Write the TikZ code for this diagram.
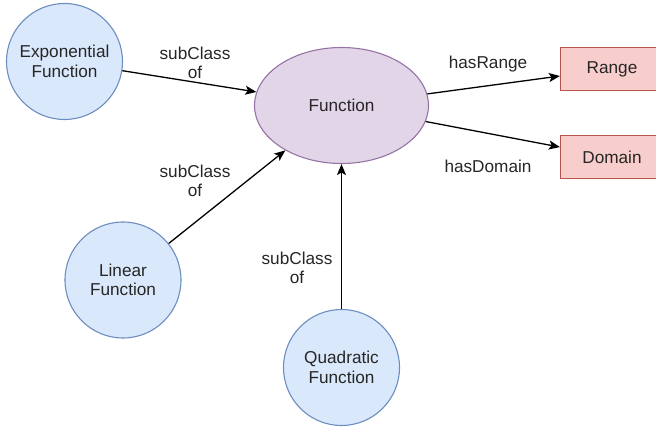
\documentclass[tikz,border=0pt]{standalone}
\usepackage{fontspec}
\setmainfont{Liberation Sans}
\usetikzlibrary{arrows.meta,shapes.geometric}
\definecolor{bfill}{HTML}{DAE8FC}
\definecolor{bline}{HTML}{6C8EBF}
\definecolor{pfill}{HTML}{E1D5E7}
\definecolor{pline}{HTML}{9673A6}
\definecolor{rfill}{HTML}{F8CECC}
\definecolor{rline}{HTML}{B85450}
\tikzset{
  every node/.style={font=\fontsize{17.2}{19.5}\selectfont, text=black!85, align=center, inner sep=0pt},
  classnode/.style={circle, draw=bline, fill=bfill, line width=1.1pt, minimum size=116pt},
  mainnode/.style={ellipse, draw=pline, fill=pfill, line width=1.1pt, minimum width=174pt, minimum height=116pt},
  rangenode/.style={rectangle, draw=rline, fill=rfill, line width=1.1pt, minimum width=103pt, minimum height=43pt},
  lbl/.style={fill=none},
  rel/.style={draw=black, line width=1.3pt, -{Stealth[length=11pt,width=9pt,inset=2.5pt]}}
}
\begin{document}
\begin{tikzpicture}[x=1pt,y=-1pt]
\useasboundingbox (0,0) rectangle (656,427);
\node[classnode] (exp) at (64.5,61.5) {Exponential\\Function};
\node[mainnode] (fun) at (341.5,105.5) {Function};
\node[rangenode] (range) at (612,69) {Range};
\node[rangenode] (domain) at (612,157) {Domain};
\node[classnode] (lin) at (123,280) {Linear\\Function};
\node[classnode] (quad) at (341.5,367.5) {Quadratic\\Function};
\draw[rel] (exp) -- (fun);
\draw[rel] (fun) -- (range);
\draw[rel] (fun) -- (domain);
\draw[rel] (lin) -- (fun);
\draw[rel] (quad) -- (fun);
\node[lbl] (l1) at (195,63) {subClass\\of};
\node[lbl] (l2) at (195,181) {subClass\\of};
\node[lbl] (l3) at (297,268) {subClass\\of};
\node[lbl] (l4) at (488,64) {hasRange};
\node[lbl] (l5) at (488,166) {hasDomain};
\end{tikzpicture}
\end{document}
